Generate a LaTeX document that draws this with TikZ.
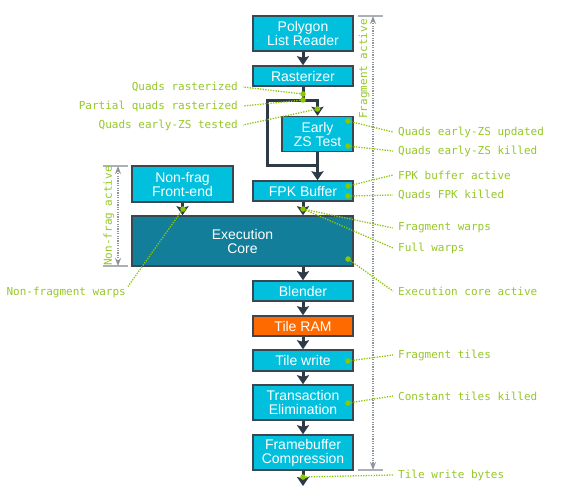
\documentclass[tikz,border=0pt]{standalone}
\usepackage{fontspec}
\setmainfont{Liberation Sans}
\setmonofont{DejaVu Sans Mono}
\usepackage{xcolor}
\usepackage{tikz}
\usetikzlibrary{calc}
\usetikzlibrary{arrows.meta}
\definecolor{stagecyan}{RGB}{0,192,222}
\definecolor{coreteal}{RGB}{18,126,154}
\definecolor{ramorange}{RGB}{255,106,0}
\definecolor{edgegray}{RGB}{58,70,80}
\definecolor{flowdark}{RGB}{46,58,69}
\definecolor{probegreen}{RGB}{140,200,0}
\definecolor{labelgreen}{RGB}{150,200,40}
\definecolor{spangray}{RGB}{140,148,156}
\definecolor{tickgray}{RGB}{170,176,182}
\tikzstyle{stagenode}=[text=white, draw=edgegray, line width=1.5pt, shape=rectangle, fill=stagecyan, minimum width=100pt, minimum height=20pt, inner sep=0pt, align=center, font=\fontsize{14}{14}\selectfont]
\tikzstyle{corenode}=[stagenode, fill=coreteal]
\tikzstyle{ramnode}=[stagenode, fill=ramorange]
\tikzstyle{probenode}=[shape=circle, fill=probegreen, minimum size=5.5pt, inner sep=0pt]
\tikzstyle{countlabel}=[text=labelgreen, font=\fontsize{11}{11}\selectfont\ttfamily, inner ysep=0pt, inner xsep=5pt]
\tikzstyle{leader}=[probegreen, line width=1.3pt, dash pattern=on 1.3pt off 1.3pt]
\tikzstyle{flowline}=[flowdark, line width=3pt]
\tikzstyle{flowarrow}=[flowline, -{Stealth[length=9pt, width=12pt, inset=1.5pt]}]
\tikzstyle{spanline}=[{Stealth[length=8pt, width=6pt]}-{Stealth[length=8pt, width=6pt]}, spangray, line width=1.5pt, dash pattern=on 1.2pt off 1.2pt]
\tikzstyle{spantick}=[tickgray, line width=1.5pt]

\begin{document}
\begin{tikzpicture}[x=1pt, y=-1pt]
\path[fill=white, use as bounding box] (0,0) rectangle (575,491);

% pipeline stages
\node [stagenode, minimum height=35pt] (poly) at (303,33.5) {Polygon\\List Reader};
\node [stagenode] (rast) at (303,76) {Rasterizer};
\node [stagenode, minimum width=71pt, minimum height=35pt] (ezs) at (317.5,134) {Early\\ZS Test};
\node [stagenode] (fpk) at (303,191) {FPK Buffer};
\node [stagenode, minimum width=101pt, minimum height=36pt] (nonfrag) at (182.5,184) {Non-frag\\Front-end};
\node [corenode, minimum width=221pt, minimum height=50pt] (exec) at (242.5,241) {Execution\\Core};
\node [stagenode] (blend) at (303,291) {Blender};
\node [ramnode] (tram) at (303,326) {Tile RAM};
\node [stagenode, minimum height=21pt] (twrite) at (303,360.5) {Tile write};
\node [stagenode, minimum height=35pt] (trans) at (303,402.5) {Transaction\\Elimination};
\node [stagenode, minimum height=35pt] (fbc) at (303,452.5) {Framebuffer\\Compression};

\coordinate (split) at (303,100);
\coordinate (bypassA) at (267,100);
\coordinate (bypassB) at (267,165);
\coordinate (merge) at (317.5,165);
\coordinate (out) at (303,486);

% data flow
\draw[flowarrow] (poly) -- (rast);
\draw[flowline] (rast) -- (split);
\draw[flowarrow] (split) -| (ezs);
\draw[flowline, line join=miter] (split) -- (bypassA) -- (bypassB) -- (merge);
\draw[flowline] (ezs) -- (merge);
\draw[flowarrow] (merge) -- (merge |- fpk.north);
\draw[flowarrow] (fpk) -- (fpk |- exec.north);
\draw[flowarrow] (nonfrag) -- (nonfrag |- exec.north);
\draw[flowarrow] (exec.south -| blend) -- (blend);
\draw[flowarrow] (blend) -- (tram);
\draw[flowarrow] (tram) -- (twrite);
\draw[flowarrow] (twrite) -- (trans);
\draw[flowarrow] (trans) -- (fbc);
\draw[flowarrow] (fbc) -- (out);

% active spans
\coordinate (fragTop) at (373,16);
\coordinate (fragBot) at (373,470);
\coordinate (nfTop) at (118,166);
\coordinate (nfBot) at (118,266);
\draw[spantick] ($(fragTop)+(-15,0)$) -- ($(fragTop)+(10,0)$);
\draw[spantick] ($(fragBot)+(-15,0)$) -- ($(fragBot)+(10,0)$);
\draw[spantick] ($(nfTop)+(-15,0)$) -- ($(nfTop)+(10,0)$);
\draw[spantick] ($(nfBot)+(-15,0)$) -- ($(nfBot)+(10,0)$);
\draw[spanline] (fragTop) -- (fragBot);
\draw[spanline] (nfTop) -- (nfBot);
\node [countlabel, rotate=90] (fragAct) at (364,69) {Fragment active};
\node [countlabel, rotate=90] (nfAct) at (109,216) {Non-frag active};

% counter labels
\node [countlabel, anchor=east] (lQr) at (243,87) {Quads rasterized};
\node [countlabel, anchor=east] (lPqr) at (243,106) {Partial quads rasterized};
\node [countlabel, anchor=east] (lEzsT) at (243,125) {Quads early-ZS tested};
\node [countlabel, anchor=west] (lEzsU) at (393,132) {Quads early-ZS updated};
\node [countlabel, anchor=west] (lEzsK) at (393,151) {Quads early-ZS killed};
\node [countlabel, anchor=west] (lFpkA) at (393,175) {FPK buffer active};
\node [countlabel, anchor=west] (lFpkK) at (393,195) {Quads FPK killed};
\node [countlabel, anchor=west] (lFragW) at (393,228) {Fragment warps};
\node [countlabel, anchor=west] (lFullW) at (393,248) {Full warps};
\node [countlabel, anchor=west] (lExec) at (393,291) {Execution core active};
\node [countlabel, anchor=west] (lTiles) at (393,355) {Fragment tiles};
\node [countlabel, anchor=west] (lConst) at (393,396) {Constant tiles killed};
\node [countlabel, anchor=west] (lBytes) at (393,475) {Tile write bytes};
\node [countlabel, anchor=east, inner xsep=2pt] (lNfw) at (128,292) {Non-fragment warps};

% probe points
\node [probenode] (pQr) at (303,94) {};
\node [probenode] (pPqr) at (303,100) {};
\node [probenode] (pEzsT) at (317.5,109) {};
\node [probenode] (pEzsU) at (348,121) {};
\node [probenode] (pEzsK) at (348,146) {};
\node [probenode] (pFpkA) at (348,186) {};
\node [probenode] (pFpkK) at (348,196) {};
\node [probenode] (pWarps) at (303,209) {};
\node [probenode] (pNonfrag) at (183,209) {};
\node [probenode] (pExec) at (348,259) {};
\node [probenode] (pTiles) at (348,361) {};
\node [probenode] (pConst) at (348,403) {};
\node [probenode] (pBytes) at (303,477) {};

\draw[leader] (pQr) -- (lQr.east);
\draw[leader] (pPqr) -- (lPqr.east);
\draw[leader] (pEzsT) -- (lEzsT.east);
\draw[leader] (pEzsU) -- (lEzsU.west);
\draw[leader] (pEzsK) -- (lEzsK.west);
\draw[leader] (pFpkA) -- (lFpkA.west);
\draw[leader] (pFpkK) -- (lFpkK.west);
\draw[leader] (pWarps) -- (lFragW.west);
\draw[leader] (pWarps) -- (lFullW.west);
\draw[leader] (pExec) -- (lExec.west);
\draw[leader] (pTiles) -- (lTiles.west);
\draw[leader] (pConst) -- (lConst.west);
\draw[leader] (pBytes) -- (lBytes.west);
\draw[leader] (pNonfrag) -- (lNfw.north east);
\end{tikzpicture}
\end{document}
